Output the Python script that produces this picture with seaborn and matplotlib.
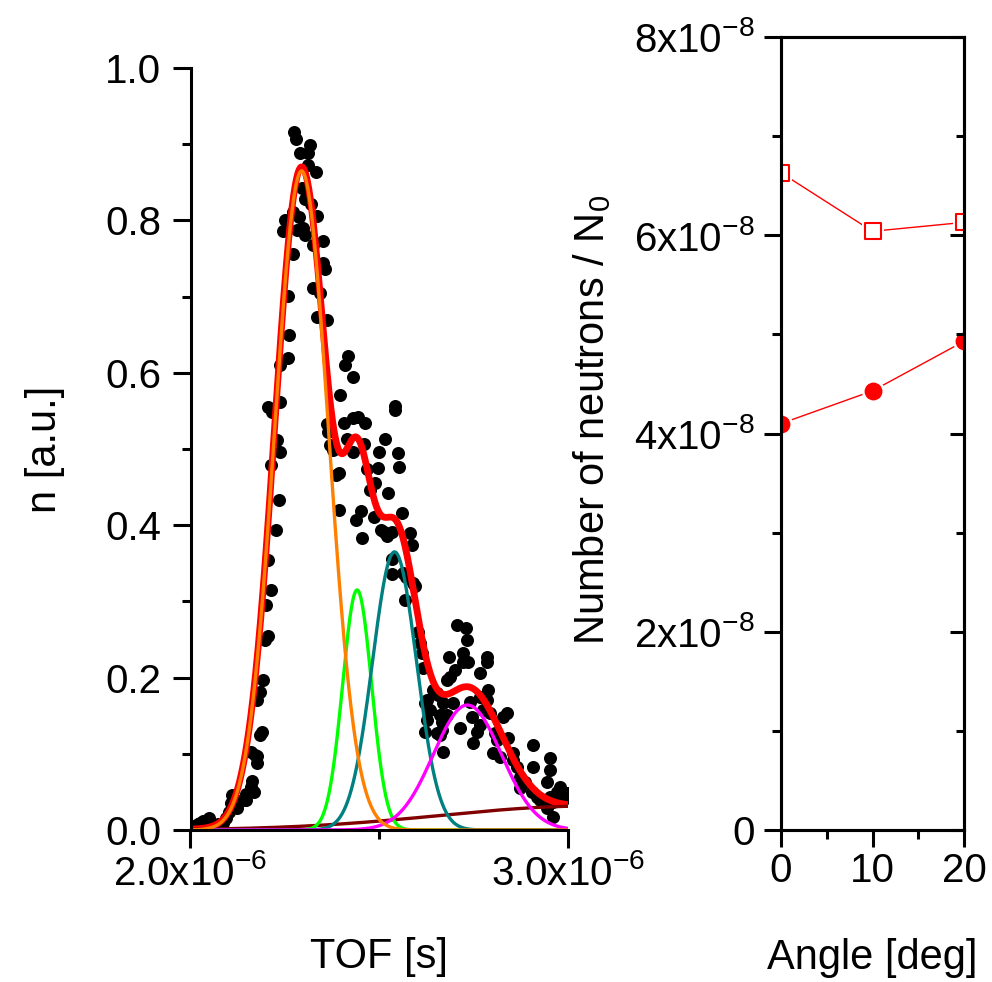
import numpy as np
import matplotlib
matplotlib.use("Agg")
import matplotlib.pyplot as plt
import seaborn as sns
from matplotlib.ticker import FixedLocator, FixedFormatter

# ---------------- data ----------------
tof_us = [
    2.008, 2.019, 2.026, 2.034, 2.048, 2.061, 2.074, 2.087, 2.095, 2.103,
    2.106, 2.111, 2.116, 2.122, 2.127, 2.140, 2.146, 2.148, 2.159, 2.164,
    2.167, 2.175, 2.159, 2.172, 2.177, 2.185, 2.190, 2.177, 2.185, 2.193,
    2.198, 2.204, 2.201, 2.212, 2.206, 2.225, 2.233, 2.212, 2.238, 2.228,
    2.204, 2.217, 2.238, 2.238, 2.257, 2.262, 2.257, 2.275, 2.280, 2.315,
    2.291, 2.310, 2.312, 2.331, 2.294, 2.302, 2.320, 2.336, 2.272, 2.288,
    2.249, 2.246, 2.283, 2.299, 2.302, 2.352, 2.325, 2.270, 2.352, 2.357,
    2.323, 2.344, 2.336, 2.360, 2.418, 2.410, 2.429, 2.397, 2.362, 2.365,
    2.405, 2.429, 2.444, 2.463, 2.542, 2.540, 2.415, 2.368, 2.378, 2.431,
    2.460, 2.516, 2.500, 2.548, 2.553, 2.497, 2.468, 2.384, 2.394, 2.489,
    2.474, 2.524, 2.392, 2.450, 2.437, 2.487, 2.503, 2.521, 2.561, 2.582,
    2.587, 2.455, 2.534, 2.534, 2.571, 2.595, 2.563, 2.590, 2.569, 2.511,
    2.534, 2.603, 2.608, 2.614, 2.616, 2.706, 2.728, 2.733, 2.685, 2.720,
    2.722, 2.786, 2.786, 2.767, 2.735, 2.701, 2.688, 2.680, 2.788, 2.786,
    2.767, 2.741, 2.643, 2.656, 2.622, 2.635, 2.669, 2.627, 2.661, 2.667,
    2.746, 2.775, 2.794, 2.839, 2.828, 2.714, 2.767, 2.759, 2.622, 2.667,
    2.661, 2.807, 2.812, 2.841, 2.749, 2.669, 2.802, 2.820, 2.854, 2.854,
    2.865, 2.907, 2.907, 2.873, 2.886, 2.873, 2.952, 2.952, 2.944, 2.905,
    2.918, 2.926, 2.952, 2.971, 2.979, 2.984, 2.960, 2.944, 2.960, 2.987,
    2.997, 2.627, 2.653, 2.696, 2.653, 2.680,
]
counts = [
    0.005, 0.008, 0.009, 0.012, 0.016, 0.005, 0.008, 0.009, 0.016, 0.024,
    0.035, 0.046, 0.031, 0.029, 0.038, 0.039, 0.047, 0.039, 0.056, 0.064,
    0.050, 0.097, 0.102, 0.098, 0.088, 0.125, 0.129, 0.171, 0.181, 0.197,
    0.249, 0.255, 0.295, 0.315, 0.354, 0.394, 0.433, 0.479, 0.496, 0.512,
    0.555, 0.549, 0.562, 0.610, 0.619, 0.650, 0.701, 0.916, 0.907, 0.899,
    0.888, 0.888, 0.873, 0.864, 0.843, 0.828, 0.822, 0.806, 0.811, 0.804,
    0.800, 0.786, 0.787, 0.790, 0.781, 0.773, 0.768, 0.756, 0.744, 0.736,
    0.711, 0.705, 0.673, 0.669, 0.622, 0.610, 0.594, 0.571, 0.533, 0.522,
    0.534, 0.541, 0.542, 0.534, 0.556, 0.551, 0.513, 0.505, 0.499, 0.496,
    0.507, 0.513, 0.496, 0.495, 0.476, 0.475, 0.474, 0.466, 0.469, 0.455,
    0.446, 0.442, 0.420, 0.419, 0.407, 0.411, 0.394, 0.386, 0.416, 0.390,
    0.374, 0.383, 0.356, 0.336, 0.332, 0.320, 0.337, 0.324, 0.302, 0.391,
    0.391, 0.260, 0.245, 0.232, 0.213, 0.269, 0.265, 0.249, 0.227, 0.232,
    0.220, 0.227, 0.220, 0.206, 0.220, 0.210, 0.201, 0.197, 0.184, 0.171,
    0.175, 0.168, 0.184, 0.177, 0.167, 0.157, 0.167, 0.144, 0.151, 0.142,
    0.148, 0.157, 0.154, 0.154, 0.148, 0.134, 0.138, 0.129, 0.129, 0.131,
    0.125, 0.127, 0.118, 0.121, 0.114, 0.102, 0.101, 0.096, 0.101, 0.092,
    0.083, 0.112, 0.083, 0.070, 0.063, 0.055, 0.094, 0.079, 0.063, 0.050,
    0.043, 0.039, 0.043, 0.050, 0.056, 0.043, 0.037, 0.029, 0.017, 0.039,
    0.049, 0.171, 0.180, 0.167, 0.127, 0.151,
]
assert len(tof_us) == len(counts)

# Gaussian fit components (centre / sigma in microseconds)
comp_center_us = [2.294, 2.441, 2.540, 2.733, 3.058]
comp_sigma_us = [0.0714, 0.0384, 0.0582, 0.090, 0.397]
comp_amp = [0.865, 0.315, 0.365, 0.164, 0.0315]
comp_colors = ["#FF8000", "#00FF00", "#008080", "#FF00FF", "#800000"]

# right panel
angles = [0, 10, 20]
open_squares = [6.63e-8, 6.04e-8, 6.13e-8]
filled_circles = [4.10e-8, 4.43e-8, 4.93e-8]

left_yticks = [0.0, 0.2, 0.4, 0.6, 0.8, 1.0]
left_yticklabels = ["0.0", "0.2", "0.4", "0.6", "0.8", "1.0"]
left_xticks = [2.0e-6, 3.0e-6]
left_xticklabels = [r"2.0x10$^{-6}$", r"3.0x10$^{-6}$"]
right_yticks = [0, 2e-8, 4e-8, 6e-8, 8e-8]
right_yticklabels = ["0", r"2x10$^{-8}$", r"4x10$^{-8}$", r"6x10$^{-8}$", r"8x10$^{-8}$"]
right_xticks = [0, 10, 20]
right_xticklabels = ["0", "10", "20"]

# ---------------- style ----------------
sns.set_theme(style="ticks")
plt.rcParams["font.family"] = ["Liberation Sans", "DejaVu Sans"]
plt.rcParams["mathtext.default"] = "regular"
plt.rcParams["axes.linewidth"] = 2.2
plt.rcParams["axes.edgecolor"] = "black"
plt.rcParams["xtick.color"] = "black"
plt.rcParams["ytick.color"] = "black"
plt.rcParams["text.color"] = "black"
plt.rcParams["axes.labelcolor"] = "black"

W, H = 992, 982
fig = plt.figure(figsize=(W / 100, H / 100), dpi=100)
fig.patch.set_facecolor("white")

ax1 = fig.add_axes([190.5 / W, (H - 830) / H, (568.3 - 190.5) / W, (830 - 68) / H])
ax2 = fig.add_axes([781 / W, (H - 830) / H, (964 - 781) / W, (830 - 37) / H])

TICK_FS = 29
LABEL_FS = 30

# ---------------- left panel ----------------
x_s = np.array(tof_us) * 1e-6
sns.scatterplot(x=x_s, y=counts, color="black", s=88, linewidth=0, ax=ax1, zorder=2)

grid_us = np.linspace(2.0, 3.0, 800)
comps = [a * np.exp(-0.5 * ((grid_us - c) / s) ** 2)
         for c, s, a in zip(comp_center_us, comp_sigma_us, comp_amp)]
total = np.sum(comps, axis=0)
grid_s = grid_us * 1e-6

sns.lineplot(x=grid_s, y=total, color="#FF0000", linewidth=4.9, ax=ax1,
             zorder=3, estimator=None)
order = [4, 1, 2, 3, 0]
for i in order:
    sns.lineplot(x=grid_s, y=comps[i], color=comp_colors[i], linewidth=2.4,
                 ax=ax1, zorder=4 + (1 if i == 0 else 0), estimator=None)

ax1.set_xlim(2.0e-6, 3.0e-6)
ax1.set_ylim(0, 1.0)
ax1.spines["top"].set_visible(False)
ax1.spines["right"].set_visible(False)
for sp in ("left", "bottom"):
    ax1.spines[sp].set_linewidth(2.2)
    ax1.spines[sp].set_color("black")
    ax1.spines[sp].set_zorder(6)
ax1.xaxis.set_major_locator(FixedLocator(left_xticks))
ax1.xaxis.set_major_formatter(FixedFormatter(left_xticklabels))
ax1.xaxis.set_minor_locator(FixedLocator([2.5e-6]))
ax1.yaxis.set_major_locator(FixedLocator(left_yticks))
ax1.yaxis.set_major_formatter(FixedFormatter(left_yticklabels))
ax1.yaxis.set_minor_locator(FixedLocator([0.1, 0.3, 0.5, 0.7, 0.9]))
ax1.tick_params(which="major", direction="out", length=13, width=2.2,
                labelsize=TICK_FS, color="black", labelcolor="black")
ax1.tick_params(which="minor", direction="out", length=6.5, width=2.2, color="black")
ax1.tick_params(axis="y", which="major", pad=8)
ax1.tick_params(axis="x", which="major", pad=4)
ax1.set_xlabel("TOF [s]", fontsize=LABEL_FS, color="black")
ax1.set_ylabel("n [a.u.]", fontsize=LABEL_FS, color="black")
ax1.xaxis.set_label_coords(0.5, (830 - 957) / 762)
ax1.xaxis.label.set_va("center")
ax1.yaxis.set_label_coords((45 - 190.5) / 377.8, 0.5)
ax1.yaxis.label.set_va("center")
ax1.set_facecolor("white")

# ---------------- right panel ----------------
sns.lineplot(x=angles, y=open_squares, color="#FF0000", linewidth=1.0, ax=ax2, zorder=2)
sns.lineplot(x=angles, y=filled_circles, color="#FF0000", linewidth=1.0, ax=ax2, zorder=2)
# white halos leave a small gap between the line and the markers
ax2.scatter(angles, open_squares, marker="s", s=230, color="white", linewidths=0, zorder=3)
ax2.scatter(angles, filled_circles, marker="o", s=270, color="white", linewidths=0, zorder=3)
ax2.scatter(angles, open_squares, marker="s", s=130, facecolors="white",
            edgecolors="#FF0000", linewidths=1.5, zorder=4)
ax2.scatter(angles, filled_circles, marker="o", s=165, color="#FF0000",
            linewidths=0, zorder=4)

ax2.set_xlim(0, 20)
ax2.set_ylim(0, 8e-8)
for sp in ax2.spines.values():
    sp.set_linewidth(2.2)
    sp.set_color("black")
    sp.set_zorder(5)
ax2.xaxis.set_major_locator(FixedLocator(right_xticks))
ax2.xaxis.set_major_formatter(FixedFormatter(right_xticklabels))
ax2.xaxis.set_minor_locator(FixedLocator([5, 15]))
ax2.yaxis.set_major_locator(FixedLocator(right_yticks))
ax2.yaxis.set_major_formatter(FixedFormatter(right_yticklabels))
ax2.yaxis.set_minor_locator(FixedLocator([1e-8, 3e-8, 5e-8, 7e-8]))
ax2.tick_params(which="major", direction="out", length=12, width=2.2,
                labelsize=TICK_FS, color="black", labelcolor="black")
ax2.tick_params(which="minor", direction="out", length=6.5, width=2.2, color="black")
ax2.tick_params(axis="y", which="major", pad=7)
ax2.tick_params(axis="x", which="major", pad=4)
ax2.set_xlabel("Angle [deg]", fontsize=LABEL_FS, color="black")
ax2.set_ylabel(r"Number of neutrons / N$_0$", fontsize=LABEL_FS, color="black")
ax2.xaxis.set_label_coords(0.5, (830 - 958) / 793)
ax2.xaxis.label.set_va("center")
ax2.yaxis.set_label_coords((592 - 781) / 183, (830 - 420) / 793)
ax2.yaxis.label.set_va("center")

# inward ticks on the right side of the right panel
ax2r = ax2.twinx()
ax2r.set_ylim(ax2.get_ylim())
ax2r.yaxis.set_major_locator(FixedLocator(right_yticks))
ax2r.yaxis.set_minor_locator(FixedLocator([1e-8, 3e-8, 5e-8, 7e-8]))
ax2r.tick_params(axis="y", which="major", direction="in", length=10, width=2.2,
                 labelright=False, color="black")
ax2r.tick_params(axis="y", which="minor", direction="in", length=5.5, width=2.2,
                 color="black")
for sp in ax2r.spines.values():
    sp.set_linewidth(2.2)
    sp.set_color("black")

fig.savefig("out.png", dpi=100, facecolor="white")
